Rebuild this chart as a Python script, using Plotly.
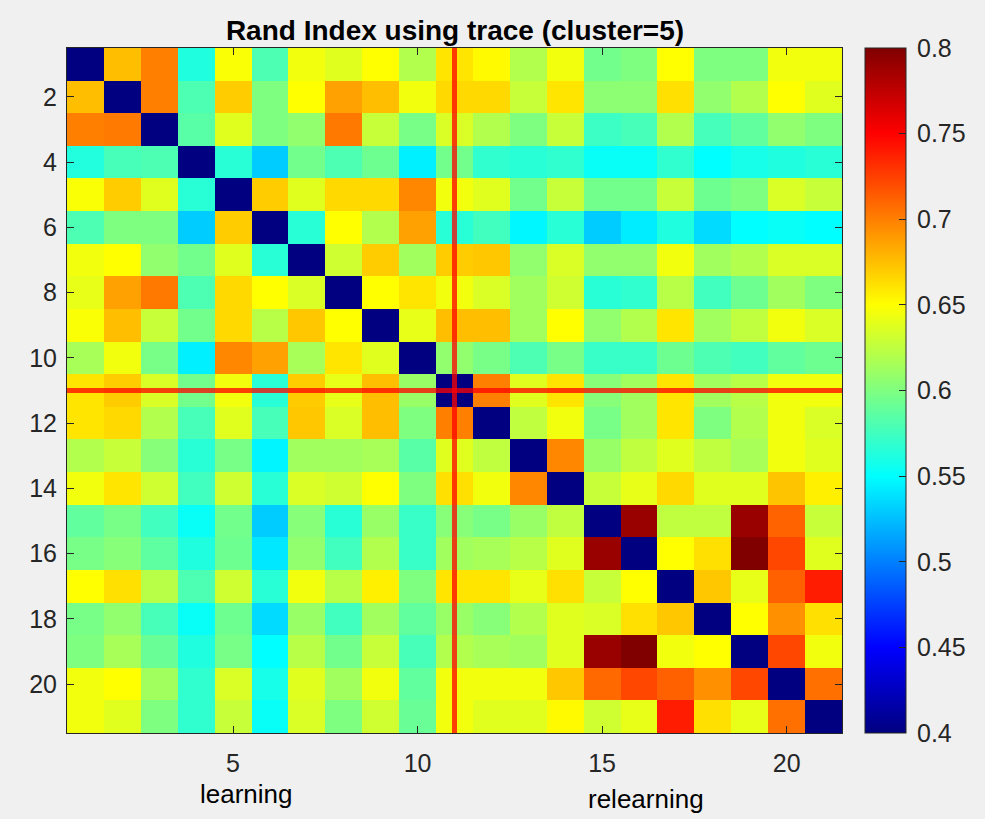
import plotly.graph_objects as go

# Rand index matrix (rows 1..21 top to bottom, columns 1..21)
row01 = [0.400, 0.675, 0.700, 0.562, 0.648, 0.580, 0.645, 0.638, 0.650, 0.620, 0.660, 0.652, 0.620, 0.645, 0.595, 0.600, 0.650, 0.600, 0.600, 0.645, 0.645]
row02 = [0.675, 0.400, 0.700, 0.580, 0.670, 0.600, 0.650, 0.687, 0.675, 0.645, 0.665, 0.665, 0.628, 0.660, 0.605, 0.605, 0.662, 0.607, 0.620, 0.650, 0.638]
row03 = [0.700, 0.702, 0.400, 0.585, 0.638, 0.600, 0.607, 0.703, 0.628, 0.597, 0.635, 0.620, 0.600, 0.628, 0.573, 0.578, 0.620, 0.577, 0.588, 0.607, 0.600]
row04 = [0.563, 0.578, 0.580, 0.400, 0.566, 0.530, 0.595, 0.580, 0.593, 0.544, 0.595, 0.569, 0.566, 0.569, 0.553, 0.553, 0.569, 0.550, 0.559, 0.562, 0.566]
row05 = [0.648, 0.670, 0.638, 0.566, 0.400, 0.670, 0.638, 0.665, 0.665, 0.697, 0.645, 0.638, 0.595, 0.628, 0.595, 0.595, 0.628, 0.593, 0.600, 0.635, 0.628]
row06 = [0.580, 0.600, 0.600, 0.530, 0.670, 0.400, 0.566, 0.650, 0.620, 0.687, 0.566, 0.575, 0.547, 0.566, 0.530, 0.543, 0.562, 0.536, 0.550, 0.553, 0.550]
row07 = [0.645, 0.650, 0.607, 0.595, 0.638, 0.566, 0.400, 0.631, 0.670, 0.613, 0.670, 0.672, 0.607, 0.635, 0.607, 0.607, 0.645, 0.613, 0.620, 0.635, 0.635]
row08 = [0.641, 0.687, 0.703, 0.580, 0.665, 0.650, 0.635, 0.400, 0.650, 0.660, 0.645, 0.635, 0.613, 0.631, 0.566, 0.569, 0.622, 0.575, 0.593, 0.613, 0.600]
row09 = [0.648, 0.675, 0.628, 0.595, 0.665, 0.622, 0.672, 0.650, 0.400, 0.641, 0.675, 0.675, 0.613, 0.650, 0.607, 0.620, 0.660, 0.613, 0.625, 0.645, 0.635]
row10 = [0.616, 0.645, 0.597, 0.544, 0.697, 0.687, 0.616, 0.660, 0.638, 0.400, 0.607, 0.597, 0.580, 0.597, 0.572, 0.572, 0.593, 0.580, 0.575, 0.588, 0.593]
row11 = [0.660, 0.670, 0.635, 0.595, 0.645, 0.566, 0.670, 0.641, 0.675, 0.610, 0.400, 0.700, 0.638, 0.660, 0.603, 0.613, 0.660, 0.613, 0.622, 0.645, 0.645]
row12 = [0.660, 0.665, 0.620, 0.578, 0.638, 0.578, 0.672, 0.635, 0.675, 0.600, 0.700, 0.400, 0.625, 0.645, 0.597, 0.613, 0.660, 0.600, 0.620, 0.645, 0.635]
row13 = [0.620, 0.628, 0.603, 0.566, 0.597, 0.546, 0.613, 0.613, 0.616, 0.585, 0.638, 0.625, 0.400, 0.697, 0.610, 0.625, 0.638, 0.625, 0.616, 0.645, 0.638]
row14 = [0.645, 0.660, 0.631, 0.575, 0.631, 0.566, 0.635, 0.631, 0.650, 0.600, 0.662, 0.645, 0.697, 0.400, 0.628, 0.641, 0.665, 0.638, 0.638, 0.673, 0.656]
row15 = [0.588, 0.597, 0.575, 0.553, 0.595, 0.530, 0.603, 0.566, 0.610, 0.572, 0.603, 0.597, 0.610, 0.625, 0.400, 0.790, 0.625, 0.625, 0.790, 0.711, 0.628]
row16 = [0.597, 0.603, 0.587, 0.562, 0.593, 0.541, 0.607, 0.575, 0.620, 0.572, 0.613, 0.616, 0.622, 0.638, 0.790, 0.400, 0.650, 0.662, 0.800, 0.722, 0.638]
row17 = [0.650, 0.662, 0.622, 0.580, 0.631, 0.566, 0.645, 0.622, 0.656, 0.600, 0.660, 0.660, 0.641, 0.662, 0.628, 0.650, 0.400, 0.672, 0.641, 0.712, 0.739]
row18 = [0.597, 0.607, 0.578, 0.553, 0.593, 0.536, 0.610, 0.575, 0.613, 0.588, 0.610, 0.603, 0.620, 0.638, 0.635, 0.662, 0.672, 0.400, 0.650, 0.693, 0.662]
row19 = [0.600, 0.616, 0.591, 0.562, 0.597, 0.550, 0.622, 0.595, 0.628, 0.578, 0.620, 0.616, 0.613, 0.638, 0.790, 0.800, 0.645, 0.650, 0.400, 0.722, 0.645]
row20 = [0.645, 0.650, 0.613, 0.569, 0.635, 0.559, 0.638, 0.613, 0.645, 0.588, 0.645, 0.645, 0.645, 0.672, 0.709, 0.722, 0.712, 0.693, 0.722, 0.400, 0.706]
row21 = [0.645, 0.638, 0.600, 0.569, 0.628, 0.553, 0.635, 0.600, 0.631, 0.591, 0.645, 0.638, 0.638, 0.652, 0.631, 0.641, 0.739, 0.662, 0.641, 0.706, 0.400]

z = [row01, row02, row03, row04, row05, row06, row07, row08, row09, row10, row11,
     row12, row13, row14, row15, row16, row17, row18, row19, row20, row21]

indices = list(range(1, 22))
x_ticks = [5, 10, 15, 20]
y_ticks = [2, 4, 6, 8, 10, 12, 14, 16, 18, 20]
cbar_ticks = [0.4, 0.45, 0.5, 0.55, 0.6, 0.65, 0.7, 0.75, 0.8]
cbar_labels = ["0.4", "0.45", "0.5", "0.55", "0.6", "0.65", "0.7", "0.75", "0.8"]
marker_index = 11
title_text = "Rand Index using trace (cluster=5)"
group_labels = ["learning", "relearning"]

jet = [
    [0.0, "rgb(0,0,128)"],
    [0.125, "rgb(0,0,255)"],
    [0.375, "rgb(0,255,255)"],
    [0.625, "rgb(255,255,0)"],
    [0.875, "rgb(255,0,0)"],
    [1.0, "rgb(128,0,0)"],
]

FONT = "Liberation Sans, Arial, Helvetica, sans-serif"
GRAY = "#262626"

W, H = 985, 819
L, R, T, B = 67, 843, 48, 733

fig = go.Figure()
fig.add_trace(go.Heatmap(
    z=z, x=indices, y=indices,
    colorscale=jet, zmin=0.4, zmax=0.8,
    colorbar=dict(
        x=(865 - L) / (R - L), xanchor="left", xpad=0,
        y=0.5, yanchor="middle", len=1, lenmode="fraction", ypad=0,
        thickness=41, outlinecolor=GRAY, outlinewidth=1,
        tickvals=cbar_ticks, ticktext=["\u2009" + s for s in cbar_labels],
        ticks="inside", ticklen=7, tickcolor=GRAY,
        tickfont=dict(family=FONT, size=25, color=GRAY),
    ),
    showscale=True,
))

# highlight lines
fig.add_shape(type="line", xref="x", yref="y",
              x0=marker_index, x1=marker_index, y0=0.5, y1=21.5,
              line=dict(color="rgba(255,0,0,0.75)", width=5))
fig.add_shape(type="line", xref="x", yref="y",
              x0=0.5, x1=21.5, y0=marker_index, y1=marker_index,
              line=dict(color="rgba(255,0,0,0.75)", width=5))

axis_common = dict(
    ticks="inside", ticklen=7, tickcolor=GRAY, tickwidth=1,
    showline=True, linecolor=GRAY, linewidth=1, mirror="allticks",
    showgrid=False, zeroline=False,
    tickfont=dict(family=FONT, size=25, color=GRAY),
)
fig.update_xaxes(range=[0.5, 21.5], tickvals=x_ticks, ticklabelstandoff=8, **axis_common)
fig.update_yaxes(range=[21.5, 0.5], tickvals=y_ticks, ticklabelstandoff=4, **axis_common)

fig.add_annotation(text=group_labels[0], xref="paper", yref="paper",
                   x=(246.5 - L) / (R - L), y=(B - 794) / (B - T),
                   showarrow=False, xanchor="center", yanchor="middle",
                   font=dict(family=FONT, size=26, color="black"))
fig.add_annotation(text=group_labels[1], xref="paper", yref="paper",
                   x=(647 - L) / (R - L), y=(B - 799) / (B - T),
                   showarrow=False, xanchor="center", yanchor="middle",
                   font=dict(family=FONT, size=26, color="black"))

fig.update_layout(
    width=W, height=H,
    margin=dict(l=L, r=W - R, t=T, b=H - B, pad=0),
    paper_bgcolor="#F0F0F0", plot_bgcolor="#F0F0F0",
    title=dict(text="<b>" + title_text + "</b>", x=(L + R) / 2 / W, xanchor="center",
               y=1 - 30 / H, yanchor="middle", xref="container", yref="container",
               font=dict(family=FONT, size=28, color="black")),
    showlegend=False,
)

fig.write_html(
    "out.html",
    config={"displayModeBar": False},
    post_script="document.body.style.margin='0';document.body.style.overflow='hidden';"
                "document.body.style.background='#F0F0F0';",
)
